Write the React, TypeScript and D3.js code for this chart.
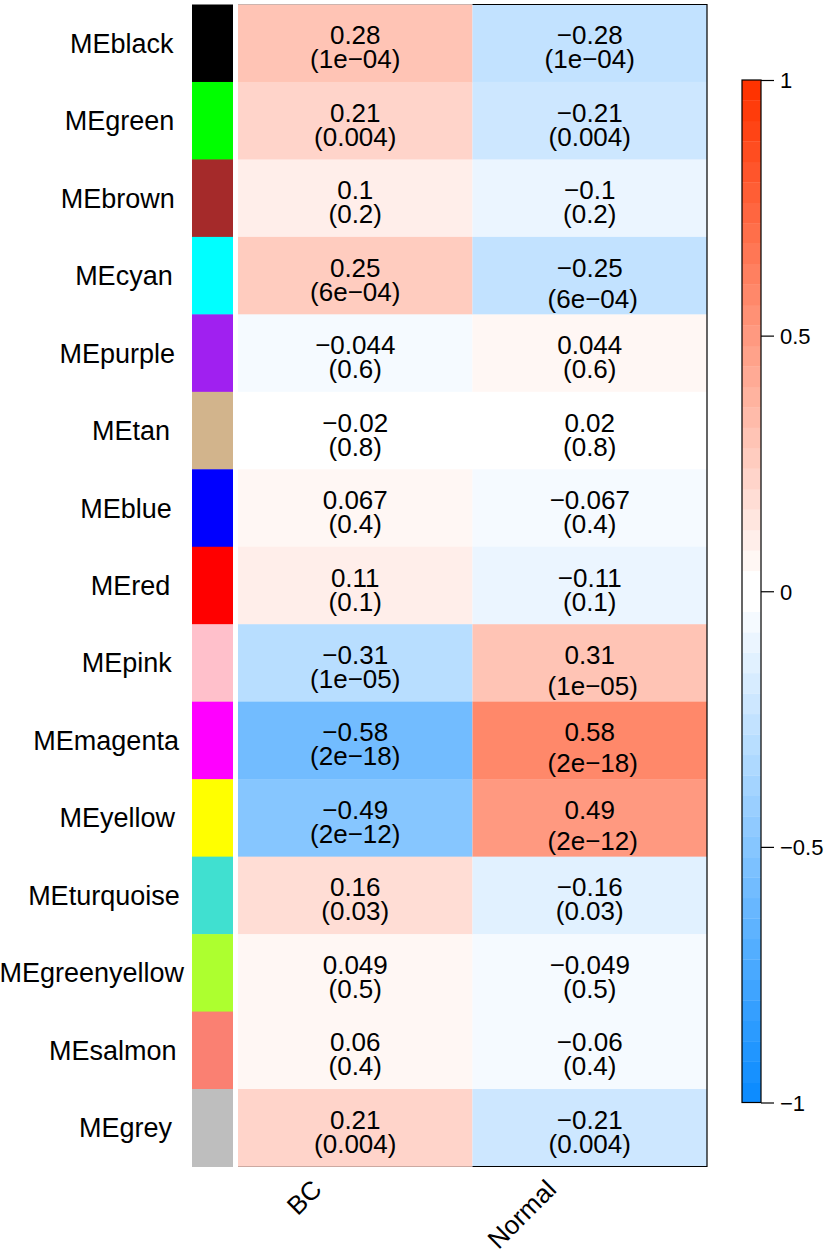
import React, { useEffect, useRef } from 'react';
import * as d3 from 'd3';

const modules = [
  'MEblack', 'MEgreen', 'MEbrown', 'MEcyan', 'MEpurple', 'MEtan', 'MEblue', 'MEred',
  'MEpink', 'MEmagenta', 'MEyellow', 'MEturquoise', 'MEgreenyellow', 'MEsalmon', 'MEgrey',
];
const moduleColors = [
  '#000000', '#00FF00', '#A52A2A', '#00FFFF', '#A020F0', '#D2B48C', '#0000FF', '#FF0000',
  '#FFC0CB', '#FF00FF', '#FFFF00', '#40E0D0', '#ADFF2F', '#FA8072', '#BEBEBE',
];
const traits = ['BC', 'Normal'];
const corBC = [0.28, 0.21, 0.1, 0.25, -0.044, -0.02, 0.067, 0.11, -0.31, -0.58, -0.49, 0.16, 0.049, 0.06, 0.21];
const corNormal = [-0.28, -0.21, -0.1, -0.25, 0.044, 0.02, -0.067, -0.11, 0.31, 0.58, 0.49, -0.16, -0.049, -0.06, -0.21];
const pBC = ['1e-04', '0.004', '0.2', '6e-04', '0.6', '0.8', '0.4', '0.1', '1e-05', '2e-18', '2e-12', '0.03', '0.5', '0.4', '0.004'];
const pNormal = ['1e-04', '0.004', '0.2', '6e-04', '0.6', '0.8', '0.4', '0.1', '1e-05', '2e-18', '2e-12', '0.03', '0.5', '0.4', '0.004'];
// cells whose second text line R rendered lower
const loweredCells = ['MEcyan|Normal', 'MEpink|Normal', 'MEmagenta|Normal', 'MEyellow|Normal'];
const legendTicks = [1, 0.5, 0, -0.5, -1];

function blueWhiteRed(n: number): string[] {
  const blueEnd = [0.05, 0.55, 1.0];
  const redEnd = [1.0, 0.2, 0.0];
  const half = Math.floor(n / 2);
  const cols: string[] = [];
  for (let i = 0; i < half; i++) {
    const f = i / (half - 1);
    const c = blueEnd.map((b) => b + (1 - b) * f);
    cols.push(d3.rgb(c[0] * 255, c[1] * 255, c[2] * 255).formatHex());
  }
  for (let i = 0; i < half; i++) {
    const f = (half - 1 - i) / (half - 1);
    const c = redEnd.map((r) => r + (1 - r) * f);
    cols.push(d3.rgb(c[0] * 255, c[1] * 255, c[2] * 255).formatHex());
  }
  return cols;
}

const fmt = (v: number) => String(v).replace('-', '\u2212');
const fmtP = (s: string) => s.replace('-', '\u2212');

const FONT = '"Liberation Sans", Arial, Helvetica, sans-serif';

export default function App() {
  const ref = useRef<SVGSVGElement | null>(null);

  useEffect(() => {
    const svg = d3.select(ref.current);
    svg.selectAll('*').remove();

    const palette = blueWhiteRed(50);
    const color = d3.scaleQuantize<string>().domain([-1, 1]).range(palette);

    const x = d3.scaleBand<string>().domain(traits).range([238, 707]);
    const y = d3.scaleBand<string>().domain(modules).range([4.5, 1166.5]);

    const cells: { m: string; t: string; v: number; p: string }[] = [];
    modules.forEach((m, i) => {
      cells.push({ m, t: 'BC', v: corBC[i], p: pBC[i] });
      cells.push({ m, t: 'Normal', v: corNormal[i], p: pNormal[i] });
    });

    // heatmap cells
    svg.append('g')
      .selectAll('rect')
      .data(cells)
      .join('rect')
      .attr('x', (d) => x(d.t)!)
      .attr('y', (d) => y(d.m)!)
      .attr('width', x.bandwidth())
      .attr('height', y.bandwidth() + 0.5)
      .attr('fill', (d) => color(d.v));

    // frame
    const fx0 = x('Normal')!;
    svg.append('path')
      .attr('d', `M${fx0},${4.5}H${707}V${1166.5}H${fx0}`)
      .attr('fill', 'none')
      .attr('stroke', '#000')
      .attr('stroke-width', 1.2);
    svg.append('path')
      .attr('d', `M238,4.5H${fx0}M238,1166.5H${fx0}`)
      .attr('fill', 'none')
      .attr('stroke', '#000')
      .attr('stroke-opacity', 0.2)
      .attr('stroke-width', 1.2);

    // side color bar
    svg.append('g')
      .selectAll('rect')
      .data(modules)
      .join('rect')
      .attr('x', 192)
      .attr('y', (d) => y(d)!)
      .attr('width', 41)
      .attr('height', y.bandwidth() + 0.5)
      .attr('fill', (d, i) => moduleColors[i]);

    // cell text
    const tg = svg.append('g')
      .attr('font-family', FONT)
      .attr('font-size', 26)
      .attr('fill', '#000')
      .attr('text-anchor', 'middle');
    cells.forEach((d) => {
      const cx = x(d.t)! + x.bandwidth() / 2;
      const cy = y(d.m)! + y.bandwidth() / 2;
      const low = loweredCells.includes(`${d.m}|${d.t}`);
      tg.append('text').attr('x', cx).attr('y', cy + 1).text(fmt(d.v));
      tg.append('text')
        .attr('x', cx + (low ? 3 : 0))
        .attr('y', cy + 25 + (low ? 7 : 0))
        .text(`(${fmtP(d.p)})`);
    });

    // row labels
    const lg = svg.append('g').attr('font-family', FONT).attr('font-size', 27).attr('fill', '#000');
    modules.forEach((m) => {
      const t = lg.append('text').attr('y', y(m)! + y.bandwidth() / 2 + 9.5).text(m);
      const w = (t.node() as SVGTextElement).getComputedTextLength();
      t.attr('x', 160 - 0.87 * w);
    });

    // column labels
    const cg = svg.append('g').attr('font-family', FONT).attr('font-size', 26).attr('fill', '#000');
    traits.forEach((t) => {
      const ax = x(t)! + x.bandwidth() / 2 - 32;
      const ay = 1191;
      cg.append('text')
        .attr('text-anchor', 'end')
        .attr('transform', `translate(${ax},${ay}) rotate(-45)`)
        .text(t);
    });

    // color legend
    const ly = d3.scaleLinear().domain([-1, 1]).range([1102.5, 80]);
    const bandH = (ly(-1) - ly(1)) / palette.length;
    svg.append('g')
      .selectAll('rect')
      .data(palette)
      .join('rect')
      .attr('x', 742)
      .attr('y', (_, i) => ly(-1 + (i + 1) * (2 / palette.length)))
      .attr('width', 19)
      .attr('height', bandH + 0.3)
      .attr('fill', (d) => d);
    svg.append('rect')
      .attr('x', 742)
      .attr('y', ly(1))
      .attr('width', 19)
      .attr('height', ly(-1) - ly(1))
      .attr('fill', 'none')
      .attr('stroke', '#000')
      .attr('stroke-width', 1.2);
    const axis = d3.axisRight(ly).tickValues(legendTicks).tickSize(13).tickPadding(6)
      .tickFormat((d) => fmt(d as number));
    const ag = svg.append('g').attr('transform', 'translate(761,0)').call(axis);
    ag.select('.domain').remove();
    ag.selectAll('line').attr('stroke', '#000').attr('stroke-width', 1.2);
    ag.selectAll('text')
      .attr('font-family', FONT)
      .attr('font-size', 22)
      .attr('fill', '#000')
      .attr('dy', '0.36em');
  }, []);

  return (
    <svg
      ref={ref}
      width={828}
      height={1255}
      style={{ position: 'absolute', left: 0, top: 0, display: 'block', background: '#fff' }}
    />
  );
}
